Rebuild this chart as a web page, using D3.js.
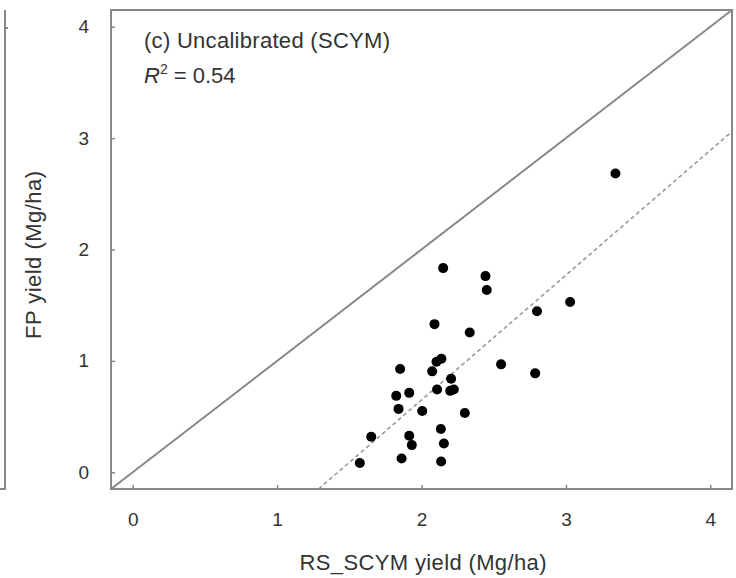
<!DOCTYPE html>
<html>
<head>
<meta charset="utf-8">
<script src="https://cdn.jsdelivr.net/npm/d3@7"></script>
<style>
  body { margin: 0; background: #fff; }
  text { font-family: "Liberation Sans", Arial, sans-serif; fill: #333; }
</style>
</head>
<body>
<div id="chart"></div>
<script>
// Data
let rsYield = [2.150, 2.443, 2.452, 3.029, 2.800, 2.090, 2.334, 2.138, 2.104, 1.852,
  2.074, 2.551, 2.787, 2.205, 2.108, 2.199, 2.224, 1.915, 1.825, 1.841,
  2.005, 2.300, 2.134, 1.652, 1.915, 2.155, 1.933, 1.862, 2.136, 1.573, 3.343];
let fpYield = [1.833, 1.761, 1.637, 1.529, 1.445, 1.330, 1.255, 1.020, 0.993, 0.927,
  0.906, 0.969, 0.888, 0.840, 0.743, 0.731, 0.743, 0.713, 0.686, 0.569,
  0.551, 0.533, 0.388, 0.319, 0.328, 0.259, 0.244, 0.124, 0.097, 0.084, 2.682];
let ticks = [0, 1, 2, 3, 4];
let fitSlope = 1.121;
let fitIntercept = -1.593;
let panelLabel = '(c) Uncalibrated (SCYM)';
let r2 = '0.54';

// Dimensions
let W = 736, H = 578;
let margin = { left: 111, right: 4, top: 10, bottom: 89 };
let width = W - margin.left - margin.right;
let height = H - margin.top - margin.bottom;

// Scales
let x = d3.scaleLinear().domain([-0.15, 4.15]).range([0, width]);
let y = d3.scaleLinear().domain([-0.15, 4.15]).range([height, 0]);

let root = d3.select('#chart').append('svg')
  .attr('width', W).attr('height', H);

// Edge of the neighbouring panel
root.append('path')
  .attr('d', 'M5,10V489H0M5,28H8')
  .attr('fill', 'none').attr('stroke', '#888').attr('stroke-width', 2);

let svg = root.append('g')
  .attr('transform', `translate(${margin.left},${margin.top})`);

// 1:1 line
svg.append('line')
  .attr('x1', x(-0.15)).attr('y1', y(-0.15))
  .attr('x2', x(4.15)).attr('y2', y(4.15))
  .attr('stroke', '#888').attr('stroke-width', 2);

// Regression line
let x0 = (-0.15 - fitIntercept) / fitSlope;
svg.append('line')
  .attr('x1', x(x0)).attr('y1', y(-0.15))
  .attr('x2', x(4.15)).attr('y2', y(fitSlope * 4.15 + fitIntercept))
  .attr('stroke', '#999').attr('stroke-width', 1.6)
  .attr('stroke-dasharray', '4,3');

// Points
svg.selectAll('.dot')
  .data(rsYield.map((d, i) => [d, fpYield[i]]))
  .enter().append('circle')
  .attr('class', 'dot')
  .attr('cx', d => x(d[0]))
  .attr('cy', d => y(d[1]))
  .attr('r', 5)
  .attr('fill', '#000');

// Axes (ticks inward)
let xAxis = svg.append('g')
  .attr('transform', `translate(0, ${height})`)
  .call(d3.axisBottom(x).tickValues(ticks).tickSize(-4).tickPadding(24).tickFormat(d3.format('d')));
let yAxis = svg.append('g')
  .call(d3.axisLeft(y).tickValues(ticks).tickSize(-4).tickPadding(22).tickFormat(d3.format('d')));
[xAxis, yAxis].forEach(a => {
  a.select('.domain').remove();
  a.selectAll('line').attr('stroke', '#888').attr('stroke-width', 1.5);
  a.selectAll('text').style('font-size', '19px').attr('fill', '#333');
});

// Frame
svg.append('rect')
  .attr('width', width).attr('height', height)
  .attr('fill', 'none').attr('stroke', '#888').attr('stroke-width', 2);

// Labels
svg.append('text')
  .attr('x', 33).attr('y', 38)
  .style('font-size', '22px')
  .attr('textLength', 246)
  .text(panelLabel);
let r2Text = svg.append('text')
  .attr('x', 33).attr('y', 73)
  .style('font-size', '22px');
r2Text.append('tspan').style('font-style', 'italic').text('R');
r2Text.append('tspan').attr('dy', -9).style('font-size', '14px').text('2');
r2Text.append('tspan').attr('dy', 9).text(' = ' + r2);

svg.append('text')
  .attr('x', 312)
  .attr('y', height + 81)
  .attr('text-anchor', 'middle')
  .style('font-size', '22px')
  .attr('textLength', 247)
  .text('RS_SCYM yield (Mg/ha)');
svg.append('text')
  .attr('transform', `translate(-70, 245) rotate(-90)`)
  .attr('text-anchor', 'middle')
  .style('font-size', '22px')
  .attr('textLength', 168)
  .text('FP yield (Mg/ha)');
</script>
</body>
</html>
